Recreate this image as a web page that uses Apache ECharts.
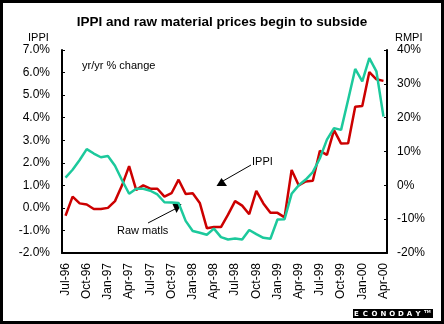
<!DOCTYPE html>
<html><head><meta charset="utf-8">
<script src="https://cdn.jsdelivr.net/npm/echarts@6/dist/echarts.min.js"></script>
<style>html,body{margin:0;padding:0;background:#fff}#c{width:444px;height:324px}</style>
</head><body><div id="c"></div>
<script>
const months = ['Jul-96','Aug-96','Sep-96','Oct-96','Nov-96','Dec-96',
  'Jan-97','Feb-97','Mar-97','Apr-97','May-97','Jun-97','Jul-97','Aug-97','Sep-97','Oct-97','Nov-97','Dec-97',
  'Jan-98','Feb-98','Mar-98','Apr-98','May-98','Jun-98','Jul-98','Aug-98','Sep-98','Oct-98','Nov-98','Dec-98',
  'Jan-99','Feb-99','Mar-99','Apr-99','May-99','Jun-99','Jul-99','Aug-99','Sep-99','Oct-99','Nov-99','Dec-99',
  'Jan-00','Feb-00','Mar-00','Apr-00'];
const ippi = [-0.35,0.5,0.2,0.15,-0.05,-0.05,
  0.0,0.3,1.0,1.85,0.8,1.0,0.85,0.85,0.5,0.65,1.25,0.62,
  0.65,0.22,-0.9,-0.85,-0.85,-0.3,0.3,0.1,-0.28,0.75,0.2,-0.22,
  -0.22,-0.42,1.68,1.0,1.17,1.2,2.53,2.35,3.45,2.85,2.87,4.48,
  4.52,6.02,5.7,5.63];
const rmpi = [2.3,4.6,7.5,10.7,9.4,8.3,
  8.7,5.8,1.5,-2.5,-1.0,-1.0,-1.6,-2.7,-5.0,-5.1,-5.2,-10.5,
  -13.5,-14.0,-14.6,-12.8,-15.3,-16.0,-15.7,-16.0,-13.2,-14.4,-15.5,-15.8,
  -10.1,-10.0,-2.5,0.0,1.7,3.9,8.0,13.5,16.9,16.4,25.3,34.4,
  30.7,37.6,33.7,20.3];
const leftAxis = {min:-2, max:7, step:1};
const rightAxis = {min:-20, max:40, step:10};
const title = 'IPPI and raw material prices begin to subside';

const FONT = "'Liberation Sans', Arial, sans-serif";
const chart = echarts.init(document.getElementById('c'), null, {renderer:'canvas'});

const logoLetters = 'ECONODAY'.split('').map((ch, k) => ({
  type:'text', left: 354 + 8.8*k, top: 310.5, z: 101,
  style:{text: ch, fill:'#fff', font:"bold 7px 'DejaVu Sans', sans-serif"}
}));

chart.setOption({
  animation:false,
  backgroundColor:'#fff',
  grid:{left:62, right:57, top:50, bottom:71, containLabel:false},
  xAxis:{
    type:'category', data: months, boundaryGap:true,
    axisLine:{onZero:false, lineStyle:{color:'#000', width:2}},
    axisTick:{inside:true, length:3, interval:0, lineStyle:{color:'#000'}},
    axisLabel:{interval:2, rotate:90, margin:10, color:'#000', fontSize:12, fontFamily:FONT},
    splitLine:{show:false}
  },
  yAxis:[{
    type:'value', min:leftAxis.min, max:leftAxis.max, interval:leftAxis.step, position:'left',
    axisLine:{show:true, onZero:false, lineStyle:{color:'#000', width:2}},
    axisTick:{show:true, inside:true, length:3, lineStyle:{color:'#000'}},
    axisLabel:{margin:12, color:'#000', fontSize:12, fontFamily:FONT, formatter: v => v.toFixed(1)+'%'},
    splitLine:{show:false}
  },{
    type:'value', min:rightAxis.min, max:rightAxis.max, interval:rightAxis.step, position:'right',
    axisLine:{show:true, onZero:false, lineStyle:{color:'#000', width:2}},
    axisTick:{show:true, inside:true, length:3, lineStyle:{color:'#000'}},
    axisLabel:{margin:10, color:'#000', fontSize:12, fontFamily:FONT, formatter: v => v+'%'},
    splitLine:{show:false}
  }],
  series:[{
    name:'IPPI', type:'line', data: ippi, yAxisIndex:0, symbol:'none',
    lineStyle:{color:'#CC0000', width:2.5}, z:2
  },{
    name:'RMPI', type:'line', data: rmpi, yAxisIndex:1, symbol:'none',
    lineStyle:{color:'#1CC99C', width:2.5}, z:3
  }],
  graphic:[
    {type:'rect', shape:{x:1.5, y:1.5, width:441, height:321}, style:{fill:'none', stroke:'#000', lineWidth:3}, z:100},
    {type:'text', left:'center', top:15, style:{text:title, fill:'#000', font:"bold 13.5px 'Liberation Sans', Arial, sans-serif"}},
    {type:'text', left:28, top:32, style:{text:'IPPI', fill:'#000', font:"11px 'Liberation Sans', Arial, sans-serif"}},
    {type:'text', left:395, top:32, style:{text:'RMPI', fill:'#000', font:"11px 'Liberation Sans', Arial, sans-serif"}},
    {type:'text', left:82, top:60, style:{text:'yr/yr % change', fill:'#000', font:"11px 'Liberation Sans', Arial, sans-serif"}},
    {type:'text', left:252, top:156, style:{text:'IPPI', fill:'#000', font:"11px 'Liberation Sans', Arial, sans-serif"}},
    {type:'line', shape:{x1:251, y1:165, x2:223, y2:181}, style:{stroke:'#000', lineWidth:1}},
    {type:'polygon', shape:{points:[[221.5,178],[216.5,186],[227,186]]}, style:{fill:'#000'}},
    {type:'text', left:117, top:225, style:{text:'Raw matls', fill:'#000', font:"11px 'Liberation Sans', Arial, sans-serif"}},
    {type:'line', shape:{x1:148, y1:223, x2:175, y2:209}, style:{stroke:'#000', lineWidth:1}},
    {type:'polygon', shape:{points:[[172.5,204],[181.5,204],[176.5,213]]}, style:{fill:'#000'}},
    {type:'rect', shape:{x:353, y:309, width:80, height:9}, style:{fill:'#000'}, z:100},
    ...logoLetters,
    {type:'text', left:424, top:309.5, z:101, style:{text:'TM', fill:'#fff', font:"bold 4px 'DejaVu Sans', sans-serif"}}
  ]
});
</script></body></html>
